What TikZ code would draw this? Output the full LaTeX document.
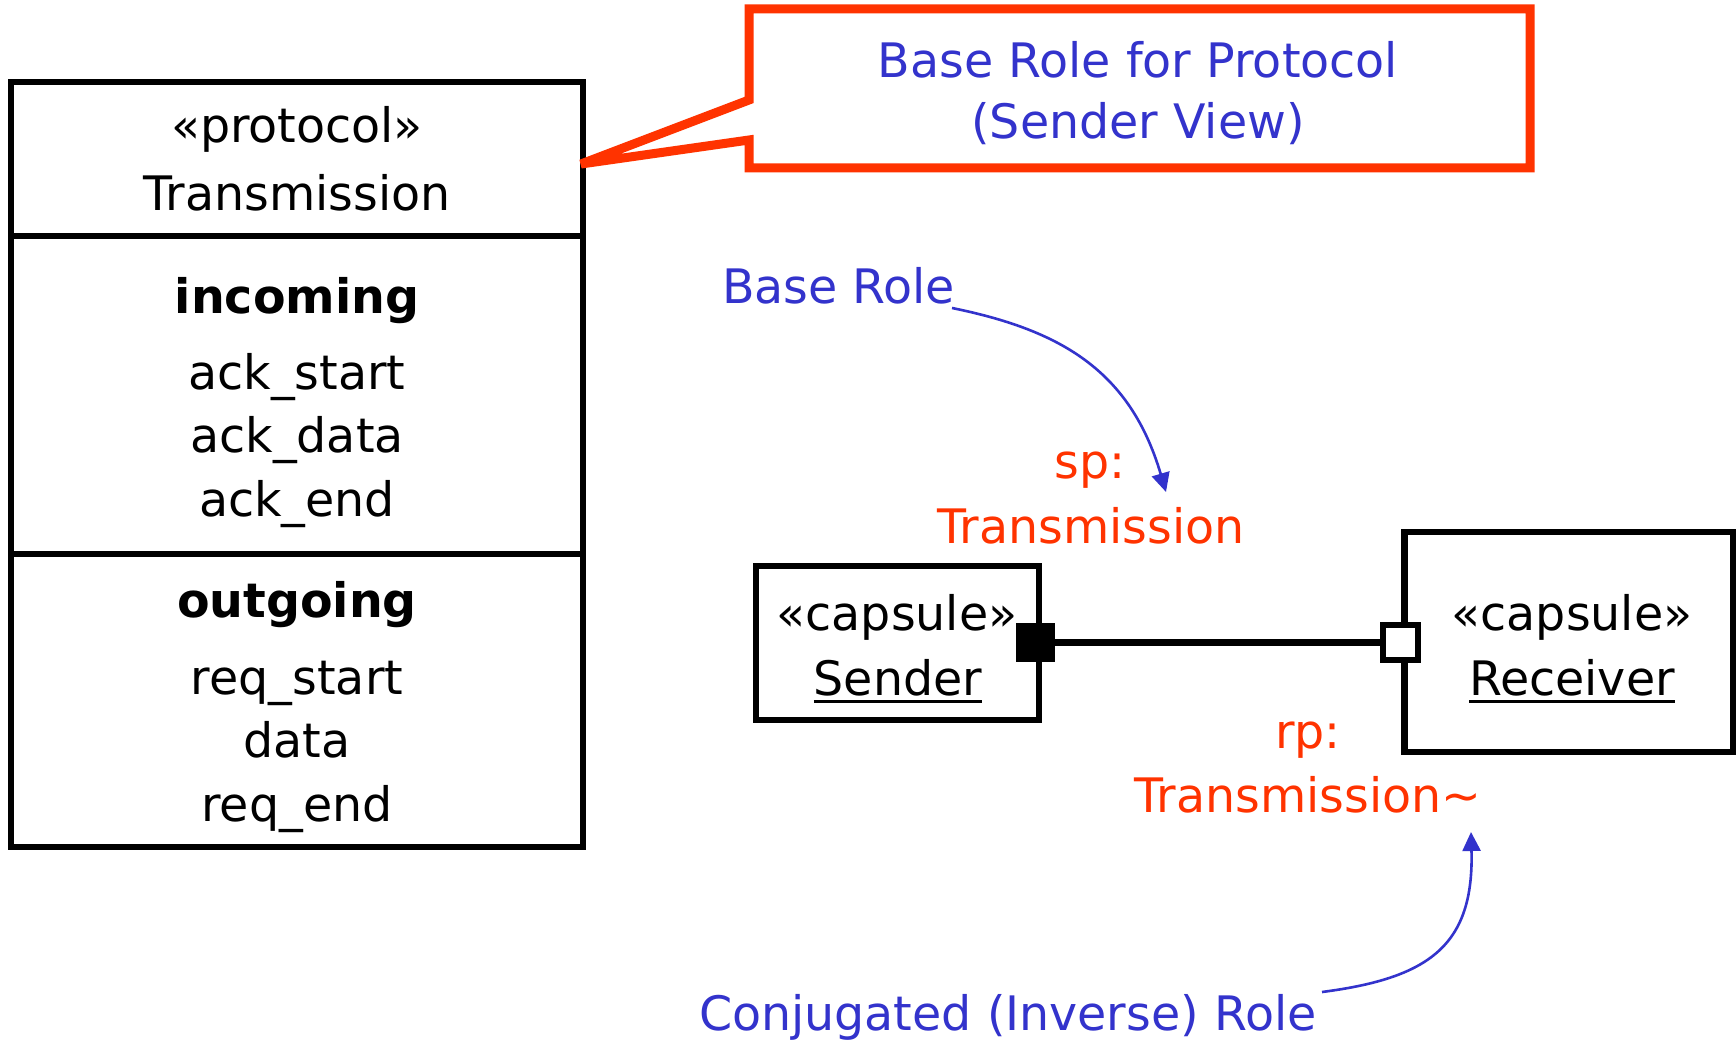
\documentclass[tikz,border=0pt]{standalone}
\usepackage{fontspec}
\setmainfont{DejaVu Sans}
\usetikzlibrary{arrows.meta}
\definecolor{roleblue}{RGB}{51,51,204}
\definecolor{rolered}{RGB}{255,51,0}
% underlined word with a heavy rule, as used for instance names
\newcommand\ulword[1]{\setbox0=\hbox{#1}\rlap{\rule[-8pt]{\wd0}{3pt}}\box0}

\begin{document}
\begin{tikzpicture}[x=1pt,y=-1pt,
  every node/.style={font=\fontsize{47.5}{63}\selectfont, inner sep=0pt, outer sep=0pt},
  lbl/.style={anchor=base},
  heading/.style={anchor=base, font=\fontsize{47.5}{63}\selectfont\bfseries},
  boxline/.style={draw=black, line width=6pt},
  calloutline/.style={draw=rolered, fill=white, line width=9pt, miter limit=4},
  bluetext/.style={text=roleblue},
  redtext/.style={text=rolered},
  rolearrow/.style={draw=roleblue, line width=2.6pt, -{Triangle[length=19pt,width=18pt]}}]

\fill[white] (0,0) rectangle (1736,1040);
\useasboundingbox (0,0) rectangle (1736,1040);

% protocol class box with its two message compartments
\node[boxline, minimum width=572pt, minimum height=765pt] (proto) at (297,464.5) {};
\draw[boxline] (proto.west |- 0,236.5) -- (proto.east |- 0,236.5);
\draw[boxline] (proto.west |- 0,553.5) -- (proto.east |- 0,553.5);
\node[lbl] (stereo) at (297,143) {«protocol»};
\node[lbl] (pname) at (297,211) {Transmission};
\node[heading] (incoming) at (297,313) {incoming};
\node[lbl] (in1) at (297,389) {ack\_start};
\node[lbl] (in2) at (297,452) {ack\_data};
\node[lbl] (in3) at (297,516) {ack\_end};
\node[heading] (outgoing) at (297,617) {outgoing};
\node[lbl] (out1) at (297,694) {req\_start};
\node[lbl] (out2) at (297,757) {data};
\node[lbl] (out3) at (297,821) {req\_end};

% callout note pointing at the protocol box
\node[minimum width=781pt, minimum height=159pt] (note) at (1139.5,88.5) {};
\coordinate (tip) at (581,164);
\draw[calloutline] (note.north west) -- (note.north east) -- (note.south east)
  -- (note.south west) -- (note.west |- 0,140) -- (tip) -- (note.west |- 0,100) -- cycle;
\node[lbl, bluetext] (notel1) at (1138,77.6) {Base Role for Protocol};
\node[lbl, bluetext] (notel2) at (1138,139) {(Sender View)};

% sender capsule
\node[boxline, line width=6.5pt, minimum width=283pt, minimum height=154pt] (sender) at (897.5,643) {};
\node[lbl] (sst) at (897,630) {«capsule»};
\node[lbl] (sname) at (898,695) {\ulword{Sender}};

% receiver capsule
\node[boxline, line width=6.5pt, minimum width=329pt, minimum height=220pt] (receiver) at (1569,642) {};
\node[lbl] (rst) at (1572,630) {«capsule»};
\node[lbl] (rname) at (1572,695) {\ulword{Receiver}};

% ports and the connector joining them
\node[draw, fill=black, line width=1pt, minimum width=38pt, minimum height=38.5pt] (sp) at (1035.5,642.5) {};
\node[draw, fill=white, line width=6pt, minimum width=34.5pt, minimum height=34.5pt] (rp) at (1400.5,642.5) {};
\draw[line width=6.5pt] (sp.east) -- (rp.west);

% port labels
\node[lbl, redtext] (spname) at (1090,478) {sp:};
\node[lbl, redtext] (sptype) at (1091,543) {Transmission};
\node[lbl, redtext] (rpname) at (1308,748) {rp:};
\node[lbl, redtext] (rptype) at (1308,812) {Transmission\textasciitilde};

% role annotations
\node[anchor=base west, bluetext] (baserole) at (722,304) {Base Role};
\node[anchor=base west, bluetext] (conjrole) at (699,1030) {Conjugated (Inverse) Role};

\coordinate (brTail) at (952,308);
\coordinate (brHead) at (1166,492);
\draw[rolearrow] (brTail) .. controls (1060,330) and (1130,370) .. (brHead);

\coordinate (cjTail) at (1322,992);
\coordinate (cjHead) at (1471,832);
\draw[rolearrow] (cjTail) .. controls (1430,978) and (1474,945) .. (cjHead);
\end{tikzpicture}
\end{document}
